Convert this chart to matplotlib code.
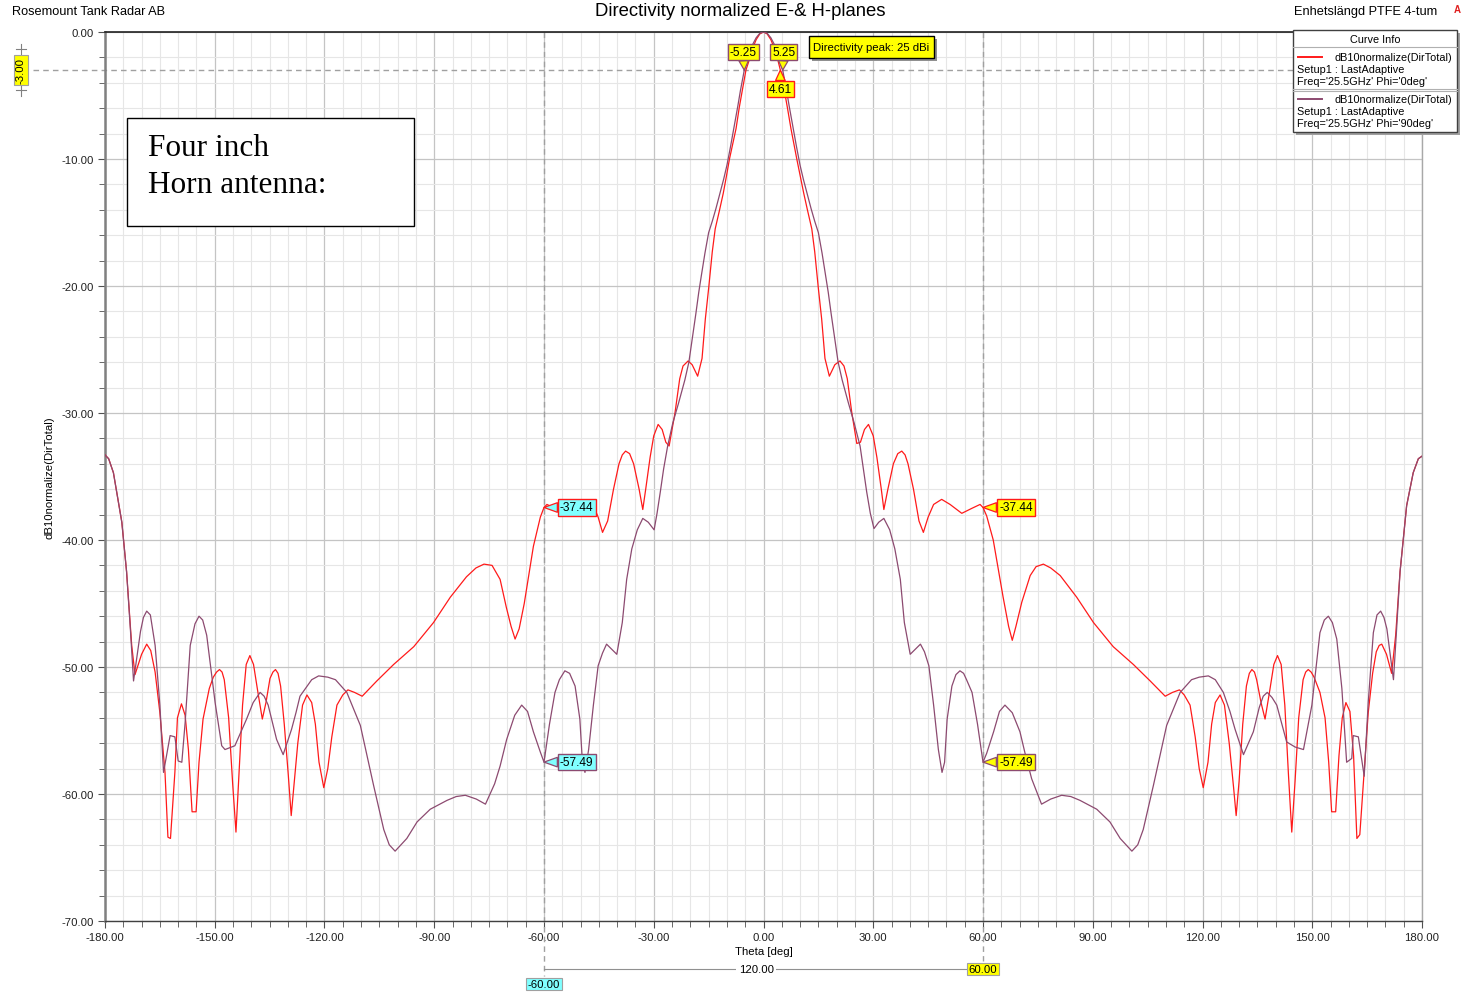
import matplotlib
matplotlib.use("Agg")
import matplotlib.pyplot as plt
from matplotlib.lines import Line2D
from matplotlib.patches import Rectangle
from matplotlib.ticker import MultipleLocator, FormatStrFormatter

plt.rcParams['font.family'] = ['Liberation Sans', 'DejaVu Sans']

# (theta deg, dB), Phi = 0deg (red)
red_right = [
    (0, 0.0), (1, -0.15), (2, -0.6), (3, -1.3), (4, -2.3), (4.61, -3.0), (5.5, -4.3), (6.5, -5.9), (7.5, -7.6), (8.3, -8.8),
    (9.1, -10.0), (10, -11.3), (11, -12.7), (12, -14.0), (13.2, -15.5), (14, -17.3), (15, -20.2), (15.9, -22.6), (16.8, -25.7), (18, -27.1),
    (19.5, -26.2), (20.9, -25.9), (22, -26.3), (22.9, -27.3), (24.1, -29.9), (25.5, -32.4), (26.5, -32.3), (27.6, -31.3), (28.7, -30.9), (30, -31.8),
    (31, -33.5), (32.2, -36.0), (32.9, -37.6), (34, -36.0), (35.5, -34.0), (36.7, -33.2), (37.8, -33.0), (38.7, -33.3), (39.5, -34.0), (41, -36.0),
    (42.5, -38.5), (43.7, -39.4), (45, -38.2), (46.5, -37.2), (48.7, -36.8), (51, -37.2), (54.2, -37.9), (57, -37.5), (59.2, -37.2), (60, -37.44),
    (61, -38.1), (62.8, -40.0), (64, -42.0), (65.5, -44.5), (67, -46.8), (68, -47.9), (69, -46.8), (70.6, -44.9), (72.9, -42.8), (74.5, -42.1),
    (76.5, -41.9), (78.5, -42.2), (81.1, -42.8), (85.6, -44.5), (90.2, -46.5), (95.6, -48.4), (101.1, -49.8), (105.7, -51.1), (109.8, -52.3), (111.8, -52.0),
    (113.7, -51.8), (115, -52.2), (116.6, -53.0), (118, -55.5), (119.1, -58.0), (120.2, -59.5), (121.5, -57.5), (122.5, -54.5), (123.5, -52.8), (124.8, -52.2),
    (126, -53.0), (127.3, -56.0), (128.5, -59.5), (129.2, -61.7), (130, -59.0), (131, -54.5), (132, -51.5), (132.8, -50.5), (133.5, -50.2), (134.2, -50.4),
    (134.8, -51.0), (136, -52.8), (137.1, -54.1), (138.3, -52.0), (139.5, -49.8), (140.5, -49.1), (141.5, -49.8), (142.5, -53.0), (143.5, -58.5), (144.4, -63.0),
    (145.3, -59.0), (146.3, -54.0), (147.5, -51.0), (148.2, -50.4), (148.9, -50.2), (149.7, -50.4), (150.5, -50.8), (152.1, -52.0), (153.5, -54.0), (154.5, -57.5),
    (155.3, -61.4), (156.4, -61.4), (157.3, -57.0), (158.2, -54.0), (159.2, -52.8), (160.3, -53.5), (161.3, -57.0), (162.2, -63.5), (163.0, -63.2), (164, -59.0),
    (165.3, -53.6), (166.5, -50.5), (167.5, -48.8), (168.3, -48.3), (169.0, -48.2), (170.3, -49.0), (171.7, -50.5), (172.8, -47.5), (174.0, -42.5), (175.8, -37.3),
    (177.6, -34.7), (179, -33.6), (180, -33.4),
]
red_left = [
    (-1, -0.15), (-2, -0.6), (-3, -1.3), (-4, -2.3), (-4.8, -3.0), (-5.6, -4.3), (-6.6, -5.9), (-7.5, -7.6), (-8.4, -8.8), (-9.3, -10.0),
    (-10.1, -11.3), (-11, -12.7), (-12, -14.0), (-13.2, -15.5), (-14, -17.3), (-15, -20.2), (-15.9, -22.6), (-16.8, -25.7), (-18, -27.1), (-19.5, -26.2),
    (-20.6, -25.9), (-22, -26.3), (-22.9, -27.3), (-24.2, -30.0), (-25.8, -32.6), (-26.7, -32.3), (-27.7, -31.3), (-28.8, -30.9), (-30, -31.8), (-31, -33.5),
    (-32.2, -36.0), (-33, -37.6), (-34, -36.0), (-35.5, -34.0), (-36.6, -33.2), (-37.7, -33.0), (-38.6, -33.3), (-39.5, -34.0), (-41, -36.0), (-42.6, -38.5),
    (-44, -39.4), (-45.2, -38.2), (-46.6, -37.2), (-48.3, -36.85), (-51, -37.2), (-54.2, -37.9), (-57, -37.5), (-59.2, -37.2), (-60, -37.44), (-61, -38.2),
    (-62.9, -40.5), (-64, -42.5), (-65.4, -45.0), (-66.8, -47.0), (-67.9, -47.8), (-69, -46.8), (-70.3, -45.3), (-72, -43.1), (-74.2, -42.0), (-76.4, -41.9),
    (-78.6, -42.2), (-81.2, -42.9), (-85.6, -44.5), (-90.2, -46.5), (-95.6, -48.4), (-101.1, -49.8), (-105.7, -51.1), (-109.7, -52.3), (-111.8, -52.0), (-113.6, -51.8),
    (-115, -52.2), (-116.6, -53.0), (-118, -55.5), (-119.1, -58.0), (-120.2, -59.5), (-121.5, -57.5), (-122.5, -54.5), (-123.5, -52.8), (-124.8, -52.2), (-126, -53.0),
    (-127.3, -56.0), (-128.4, -59.5), (-129.1, -61.7), (-129.9, -58.5), (-131, -54.5), (-132, -51.5), (-132.7, -50.5), (-133.4, -50.2), (-134.1, -50.4), (-134.9, -50.9),
    (-136, -52.8), (-137, -54.1), (-138.2, -52.0), (-139.4, -49.8), (-140.4, -49.1), (-141.4, -49.8), (-142.4, -53.0), (-143.4, -58.5), (-144.2, -63.0), (-145.1, -59.2),
    (-146.2, -54.0), (-147.4, -51.0), (-148.0, -50.4), (-148.7, -50.2), (-149.5, -50.4), (-150.4, -50.8), (-151.5, -51.7), (-153.2, -54.1), (-154.3, -57.5), (-155.1, -61.4),
    (-156.2, -61.4), (-157.2, -56.5), (-158.1, -53.8), (-159.1, -52.9), (-160.2, -54.0), (-160.9, -58.3), (-162.1, -63.5), (-162.8, -63.4), (-163.6, -58.3), (-165, -53.6),
    (-166.3, -50.4), (-167.5, -48.7), (-168.6, -48.2), (-170, -49.0), (-171.8, -50.6), (-172.7, -48.3), (-174.1, -42.5), (-175.4, -38.6), (-177.7, -34.7), (-179, -33.6),
    (-180, -33.3),
]

# Phi = 90deg (purple)
purple_right = [
    (0, 0.0), (1, -0.1), (2, -0.45), (3, -1.0), (4, -1.75), (5.25, -3.0), (6.3, -4.6), (7, -5.8), (8, -7.4), (9, -9.0),
    (10, -10.5), (10.9, -11.6), (12, -12.8), (13, -13.9), (14, -14.9), (15, -15.8), (16, -17.4), (17, -19.2), (17.7, -20.5), (18.5, -22.2),
    (19.5, -24.2), (20.4, -26.0), (21.5, -27.4), (23.2, -29.2), (24.8, -30.8), (26.4, -32.6), (27.3, -34.4), (28.2, -36.2), (29.2, -37.9), (30.2, -39.1),
    (31.5, -38.6), (32.9, -38.3), (34.5, -39.2), (35.9, -40.7), (37.4, -43.1), (38.5, -46.5), (40.1, -49.0), (41.5, -48.6), (42.9, -48.2), (44, -48.8),
    (45.2, -49.9), (46.5, -53.0), (47.8, -56.5), (48.8, -58.3), (49.5, -57.5), (50.2, -54.1), (51.5, -51.5), (52.6, -50.6), (53.7, -50.3), (54.7, -50.5),
    (55.5, -51.0), (57.0, -52.0), (58.5, -54.5), (60, -57.49), (61, -56.8), (62.9, -55.1), (64.5, -53.5), (66.0, -53.0), (68, -53.6), (70.1, -55.1),
    (71.5, -56.8), (73.3, -58.8), (76.0, -60.8), (78.5, -60.4), (81.5, -60.1), (84, -60.2), (86.5, -60.5), (91.1, -61.2), (94.7, -62.2), (97.5, -63.5),
    (100.7, -64.5), (102.3, -64.0), (103.8, -62.8), (106.6, -59.3), (110.2, -54.6), (113.9, -52.0), (117, -51.0), (119.1, -50.8), (121.6, -50.7), (123.5, -51.0),
    (125.7, -52.0), (127.5, -53.5), (128.9, -54.9), (131.2, -56.9), (133.9, -55.1), (135.5, -53.2), (136.6, -52.3), (137.7, -52.0), (139.0, -52.4), (140.3, -53.0),
    (143.0, -55.9), (145.3, -56.3), (147.6, -56.5), (149.9, -53.0), (152.1, -47.3), (153.3, -46.3), (154.4, -46.0), (155.5, -46.5), (156.7, -47.8), (158.1, -51.7),
    (159.4, -57.5), (160.8, -57.2), (161.2, -55.4), (162.6, -55.5), (164.2, -58.6), (165.3, -52.8), (166.7, -47.3), (167.7, -45.9), (168.7, -45.6), (169.6, -46.1),
    (170.4, -47.0), (172.2, -51.0), (173.0, -47.3), (174.0, -42.5), (175.8, -37.3), (177.6, -34.7), (179, -33.6), (180, -33.4),
]
purple_left = [
    (-1, -0.1), (-2, -0.45), (-3, -1.0), (-4, -1.75), (-5.25, -3.0), (-6.3, -4.6), (-7, -5.8), (-8, -7.4), (-9, -9.0), (-10, -10.5),
    (-10.9, -11.6), (-12, -12.8), (-13, -13.9), (-14, -14.9), (-15, -15.8), (-16, -17.4), (-17, -19.2), (-17.7, -20.5), (-18.5, -22.2), (-19.5, -24.2),
    (-20.4, -26.0), (-21.5, -27.4), (-23.2, -29.2), (-24.8, -30.8), (-26.2, -32.6), (-27.3, -34.4), (-28.2, -36.2), (-29.1, -37.9), (-29.9, -39.2), (-31.5, -38.6),
    (-33, -38.3), (-34.5, -39.2), (-36, -40.7), (-37.4, -43.1), (-38.6, -46.5), (-40.1, -49.0), (-41.5, -48.6), (-42.9, -48.2), (-44, -48.9), (-45.2, -49.9),
    (-46.5, -53.0), (-47.8, -56.5), (-48.8, -58.3), (-49.5, -57.5), (-50.2, -54.1), (-51.5, -51.5), (-53.0, -50.5), (-54.3, -50.3), (-55.8, -51.0), (-57, -52.0),
    (-58.5, -54.5), (-60, -57.49), (-61, -56.7), (-62.9, -55.1), (-64.5, -53.5), (-66.1, -53.0), (-68, -53.8), (-70.2, -55.7), (-72, -57.8), (-73.5, -59.2),
    (-76, -60.8), (-78.5, -60.4), (-81.5, -60.1), (-84, -60.2), (-86.5, -60.5), (-91.1, -61.2), (-94.7, -62.2), (-97.5, -63.5), (-100.7, -64.5), (-102.3, -64.0),
    (-103.8, -62.8), (-106.6, -59.3), (-110.2, -54.6), (-113.9, -52.0), (-117, -51.0), (-119.1, -50.8), (-121.6, -50.7), (-123.5, -51.0), (-126.7, -52.3), (-127.8, -53.6),
    (-129, -54.9), (-131.3, -56.9), (-133.1, -55.7), (-135.4, -53.0), (-136.5, -52.3), (-137.6, -52.0), (-139.5, -52.8), (-141.3, -54.1), (-144.5, -56.2), (-147.2, -56.5),
    (-148.1, -56.2), (-149.9, -52.8), (-152.2, -47.5), (-153.3, -46.3), (-154.3, -46.0), (-155.4, -46.6), (-156.7, -48.3), (-158.1, -54.4), (-159.0, -57.5), (-160.0, -57.4),
    (-160.9, -55.5), (-162.2, -55.4), (-164.0, -58.3), (-165, -53.0), (-166.3, -48.3), (-167.6, -45.9), (-168.6, -45.6), (-169.5, -46.1), (-170.3, -47.2), (-172.2, -51.1),
    (-173.0, -47.3), (-174.1, -42.5), (-175.4, -38.6), (-177.7, -34.7), (-179, -33.6), (-180, -33.3),
]

marker_theta = [-60, 60]
marker_red = -37.44
marker_purple = -57.49
beam_left = -5.25
beam_right = 5.25
beam_red = 4.61

RED = '#ff1a1a'
PURPLE = '#8c4a70'
YELLOW = '#ffff00'
CYAN = '#80ffff'

W, H = 1461, 995


def fx(x):
    return x / W


def fy(y):
    return 1 - y / H


fig = plt.figure(figsize=(W / 100, H / 100), dpi=100)
ax = fig.add_axes([fx(105), fy(922), 1317 / W, 889 / H])

th_r, db_r = zip(*sorted(red_left + red_right))
th_p, db_p = zip(*sorted(purple_left + purple_right))
ax.plot(th_r, db_r, color=RED, lw=0.9, zorder=3)
ax.plot(th_p, db_p, color=PURPLE, lw=0.9, zorder=3)

ax.set_xlim(-180, 180)
ax.set_ylim(-70, 0)
ax.xaxis.set_major_locator(MultipleLocator(30))
ax.xaxis.set_minor_locator(MultipleLocator(5))
ax.yaxis.set_major_locator(MultipleLocator(10))
ax.yaxis.set_minor_locator(MultipleLocator(2))
ax.xaxis.set_major_formatter(FormatStrFormatter('%.2f'))
ax.yaxis.set_major_formatter(FormatStrFormatter('%.2f'))
ax.grid(which='major', color='#c4c4c4', lw=0.9)
ax.grid(which='minor', color='#e6e6e6', lw=0.8)
ax.set_axisbelow(True)
ax.tick_params(which='both', direction='out', labelsize=8.2, labelcolor='#202020', color='#505050')
ax.tick_params(which='major', length=5, pad=3)
ax.tick_params(which='minor', length=4)
for side, c, w in [('top', '#202020', 1.2), ('left', '#808080', 1.8),
                   ('bottom', '#404040', 1.0), ('right', '#a8a8a8', 1.0)]:
    ax.spines[side].set_color(c)
    ax.spines[side].set_linewidth(w)

ax.set_xlabel('Theta [deg]', fontsize=8.2, labelpad=3)
ax.set_ylabel('dB10normalize(DirTotal)', fontsize=8.2, labelpad=5)

# -3 dB line and vertical markers
xt = ax.get_xaxis_transform()
yt = ax.get_yaxis_transform()
ax.plot([-0.055, 1.027], [-3, -3], transform=yt, color='#a0a0a0', lw=1, ls=(0, (4, 3)), clip_on=False, zorder=2)
ax.plot([-60, -60], [1.0, -0.062], transform=xt, color='#a0a0a0', lw=1, ls=(0, (4, 3)), clip_on=False, zorder=2)
ax.plot([60, 60], [1.0, -0.045], transform=xt, color='#a0a0a0', lw=1, ls=(0, (4, 3)), clip_on=False, zorder=2)

# -3.00 label at the left
lx = (21 - 105) / 1317
ax.plot([lx, lx], [-0.94, -5.04], transform=yt, color='#808080', lw=0.8, clip_on=False)
for yb in (-1.34, -4.57):
    ax.plot([lx - 0.004, lx + 0.004], [yb, yb], transform=yt, color='#808080', lw=0.8, clip_on=False)
ax.text(lx, -3, '-3.00', transform=yt, rotation=90, ha='center', va='center', fontsize=8.2,
        bbox=dict(boxstyle='square,pad=0.15', fc=YELLOW, ec='#a0a0a0', lw=0.8), clip_on=False, zorder=5)

# bottom dimension line
ax.plot([-60, 60], [-0.054, -0.054], transform=xt, color='#909090', lw=0.8, clip_on=False)
ax.text(-2, -0.054, '120.00', transform=xt, ha='center', va='center', fontsize=8.2,
        bbox=dict(boxstyle='square,pad=0.2', fc='white', ec='none'), clip_on=False)
ax.text(60, -0.054, '60.00', transform=xt, ha='center', va='center', fontsize=8.2,
        bbox=dict(boxstyle='square,pad=0.12', fc=YELLOW, ec='#a0a0a0', lw=0.8), clip_on=False)
ax.text(-60, -0.071, '-60.00', transform=xt, ha='center', va='center', fontsize=8.2,
        bbox=dict(boxstyle='square,pad=0.12', fc=CYAN, ec='#a0a0a0', lw=0.8), clip_on=False)


def flag(x, y, label, fc, ec, dx, dy, ha='left'):
    ax.annotate(label, xy=(x, y), xytext=(dx, dy), textcoords='offset pixels',
                ha=ha, va='center', fontsize=8.6, zorder=6,
                bbox=dict(boxstyle='square,pad=0.18', fc=fc, ec=ec, lw=1),
                arrowprops=dict(arrowstyle='wedge,tail_width=0.8,shrink_factor=0.5',
                                fc=fc, ec=ec, lw=0.9, shrinkA=0, shrinkB=0))


flag(marker_theta[0], marker_red, '-37.44', CYAN, RED, 16, 0)
flag(marker_theta[1], marker_red, '-37.44', YELLOW, RED, 16, 0)
flag(marker_theta[0], marker_purple, '-57.49', CYAN, PURPLE, 16, 0)
flag(marker_theta[1], marker_purple, '-57.49', YELLOW, PURPLE, 16, 0)
flag(beam_left, -3, '-5.25', YELLOW, PURPLE, -1, 18, ha='center')
flag(beam_right, -3, '5.25', YELLOW, PURPLE, 1, 18, ha='center')
flag(beam_red, -3, '4.61', YELLOW, RED, 0, -19, ha='center')

# directivity peak note
fig.patches.append(Rectangle((fx(812), fy(62)), 125 / W, 22 / H, transform=fig.transFigure,
                             fc='#909090', ec='none', zorder=4))
fig.patches.append(Rectangle((fx(809), fy(59)), 125 / W, 22 / H, transform=fig.transFigure,
                             fc=YELLOW, ec='black', lw=1, zorder=5))
fig.text(fx(871), fy(48), 'Directivity peak: 25 dBi', ha='center', va='center', fontsize=8.2, zorder=6)

# "Four inch" text box
fig.patches.append(Rectangle((fx(127), fy(227)), 287 / W, 108 / H, transform=fig.transFigure,
                             fc='white', ec='black', lw=1, zorder=4))
fig.text(fx(148), fy(167), 'Four inch\nHorn antenna:', ha='left', va='center', fontsize=22.5,
         family=['Liberation Serif', 'DejaVu Serif'], linespacing=1.32, zorder=6)

# curve info box
fig.patches.append(Rectangle((fx(1296), fy(136)), 164 / W, 102 / H, transform=fig.transFigure,
                             fc='#a0a0a0', ec='none', zorder=4))
fig.patches.append(Rectangle((fx(1293), fy(133)), 164 / W, 102 / H, transform=fig.transFigure,
                             fc='white', ec='#404040', lw=1, zorder=5))
fig.text(fx(1375), fy(40), 'Curve Info', ha='center', va='center', fontsize=7.8, zorder=6)
for ysep in (48, 90, 92):
    fig.add_artist(Line2D([fx(1293), fx(1457)], [fy(ysep), fy(ysep)], transform=fig.transFigure,
                          color='#b0b0b0', lw=0.8, zorder=6))
for y0, col, phi in [(58, RED, "0deg"), (100, PURPLE, "90deg")]:
    fig.add_artist(Line2D([fx(1298), fx(1322)], [fy(y0), fy(y0)], transform=fig.transFigure,
                          color=col, lw=1.4, zorder=6))
    fig.text(fx(1452), fy(y0), 'dB10normalize(DirTotal)', ha='right', va='center', fontsize=7.8, zorder=6)
    fig.text(fx(1297), fy(y0 + 12), 'Setup1 : LastAdaptive', ha='left', va='center', fontsize=7.8, zorder=6)
    fig.text(fx(1297), fy(y0 + 24), "Freq='25.5GHz' Phi='%s'" % phi, ha='left', va='center', fontsize=7.8, zorder=6)

# header texts
fig.text(fx(12), fy(12), 'Rosemount Tank Radar AB', ha='left', va='center', fontsize=9.2)
fig.text(fx(740), fy(12), 'Directivity normalized E-& H-planes', ha='center', va='center', fontsize=13.3)
fig.text(fx(1437), fy(12), 'Enhetslängd PTFE 4-tum', ha='right', va='center', fontsize=9.2)
fig.text(fx(1457), fy(10), 'A', ha='center', va='center', fontsize=7, color='#e02020', fontweight='bold')

fig.savefig('out.png', dpi=100)
